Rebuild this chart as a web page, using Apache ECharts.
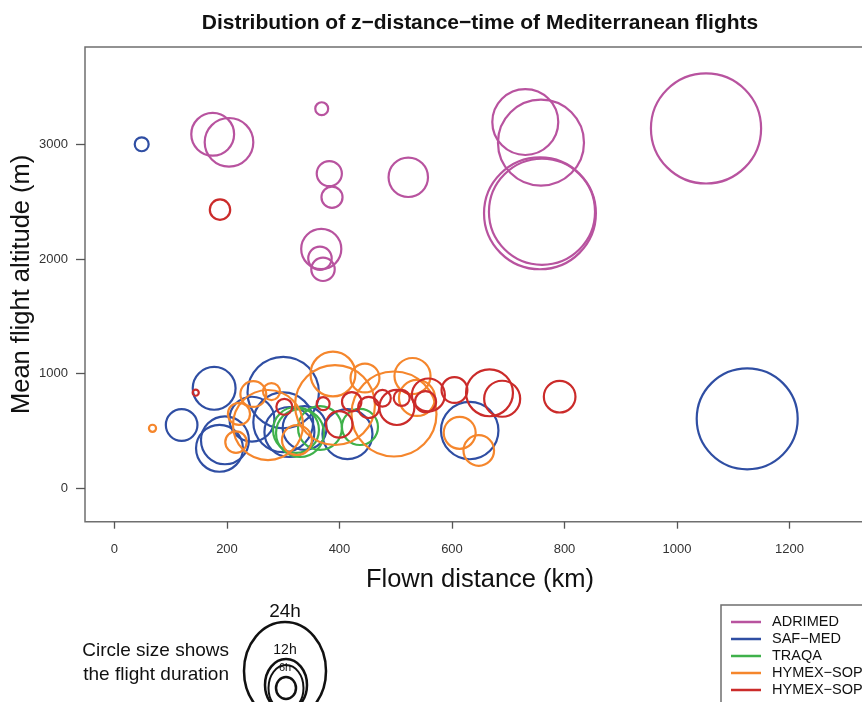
<!DOCTYPE html>
<html>
<head>
<meta charset="utf-8">
<title>Distribution of z−distance−time of Mediterranean flights</title>
<script src="https://cdn.jsdelivr.net/npm/echarts@6/dist/echarts.min.js"></script>
<style>
  html, body { margin: 0; padding: 0; background: #ffffff; }
  #chart { width: 862px; height: 702px; }
</style>
</head>
<body>
<div id="chart"></div>
<script>
// Flights per campaign: [flown distance (km), mean altitude (m), duration (h)]
const adrimed = [
  [174.6, 3087, 12.6], [203.6, 3017, 14.3], [368.4, 3310, 3.8],
  [381.9, 2744, 7.4], [386.7, 2538, 6.2], [522.3, 2712, 11.6],
  [367.6, 2087, 11.8], [365.3, 2006, 6.9], [370.7, 1910, 6.9],
  [730.3, 3194, 19.4], [758.2, 3014, 25.3], [756.4, 2398, 32.9],
  [760.0, 2411, 31.2], [1051.6, 3138, 32.4]
];
const safMed = [
  [48.4, 3000, 4.1], [119.4, 552, 9.3], [177.2, 872, 12.6],
  [186.7, 349, 13.8], [196.4, 419, 14.1], [300.0, 835, 21.0],
  [244.4, 603, 13.2], [300.0, 576, 17.6], [311.0, 491, 14.7],
  [338.0, 526, 12.9], [414.2, 473, 14.7], [631.5, 504, 16.9],
  [1124.8, 606, 29.7]
];
const traqa = [
  [322.7, 509, 13.5], [329.8, 482, 14.1], [365.3, 526, 12.9],
  [436.4, 535, 10.6]
];
const hymexSop1 = [
  [67.6, 523, 2.1], [216.0, 403, 6.3], [221.3, 649, 6.5],
  [246.8, 822, 7.6], [279.1, 844, 5.0], [272.9, 552, 20.6],
  [388.4, 997, 13.2], [445.3, 962, 8.5], [529.8, 979, 10.6],
  [496.9, 648, 25.0], [537.8, 788, 10.6], [613.7, 484, 9.4],
  [647.6, 330, 9.0], [392.0, 726, 23.5], [324.4, 421, 8.8]
];
const hymexSop2 = [
  [144.4, 834, 1.8], [187.6, 2430, 6.0], [302.0, 711, 4.7],
  [371.0, 738, 3.8], [421.7, 755, 5.7], [399.6, 558, 7.8],
  [452.0, 705, 6.2], [476.4, 785, 4.9], [502.0, 705, 10.3],
  [510.6, 788, 4.7], [558.0, 814, 9.7], [553.0, 755, 6.2],
  [604.4, 857, 7.6], [666.7, 833, 13.8], [689.2, 781, 10.6],
  [791.4, 799, 9.3]
];

const campaignNames = ['ADRIMED', 'SAF−MED', 'TRAQA', 'HYMEX−SOP1', 'HYMEX−SOP2'];
const campaignColors = ['#b8539f', '#2f4ea3', '#3fb14b', '#f5862c', '#cb2b2a'];
const campaignData = [adrimed, safMed, traqa, hymexSop1, hymexSop2];

const xTicks = [0, 200, 400, 600, 800, 1000, 1200];
const yTicks = [0, 1000, 2000, 3000];

// circle diameter in pixels per hour of flight
const PX_PER_HOUR = 3.4;

const chart = echarts.init(document.getElementById('chart'));

const series = campaignData.map((data, i) => ({
  name: campaignNames[i],
  type: 'scatter',
  data: data,
  symbol: 'circle',
  symbolSize: v => v[2] * PX_PER_HOUR,
  itemStyle: {
    color: 'rgba(0,0,0,0)',
    borderColor: campaignColors[i],
    borderWidth: 2.2,
    opacity: 1
  },
  emphasis: { disabled: true },
  silent: true,
  z: 2 + i
}));

const textFont = '"Liberation Sans", Arial, sans-serif';

// legend of campaigns, lower right
const legendX = 721, legendY = 605, rowH = 17;
const legendGraphics = [{
  type: 'rect',
  shape: { x: legendX, y: legendY, width: 200, height: 120 },
  style: { fill: '#ffffff', stroke: '#6f6f6f', lineWidth: 1.5 },
  z: 10
}];
campaignNames.forEach((name, i) => {
  const y = legendY + 17 + i * rowH;
  legendGraphics.push({
    type: 'line',
    shape: { x1: legendX + 10, y1: y, x2: legendX + 40, y2: y },
    style: { stroke: campaignColors[i], lineWidth: 2.5 },
    z: 11
  });
  legendGraphics.push({
    type: 'text',
    x: legendX + 51, y: y,
    style: {
      text: name, fill: '#111', font: '14.5px ' + textFont,
      textVerticalAlign: 'middle'
    },
    z: 11
  });
});

// duration key, lower left
const keyGraphics = [
  { type: 'text', x: 229, y: 651, style: { text: 'Circle size shows', fill: '#111',
    font: '19px ' + textFont, textAlign: 'right', textVerticalAlign: 'middle' } },
  { type: 'text', x: 229, y: 675, style: { text: 'the flight duration', fill: '#111',
    font: '19px ' + textFont, textAlign: 'right', textVerticalAlign: 'middle' } },
  { type: 'ellipse', shape: { cx: 285, cy: 671, rx: 41, ry: 49 },
    style: { fill: 'none', stroke: '#111', lineWidth: 2.5 } },
  { type: 'ellipse', shape: { cx: 286, cy: 685, rx: 21, ry: 26 },
    style: { fill: 'none', stroke: '#111', lineWidth: 2.5 } },
  { type: 'ellipse', shape: { cx: 286, cy: 688, rx: 17.5, ry: 23 },
    style: { fill: 'none', stroke: '#111', lineWidth: 2 } },
  { type: 'ellipse', shape: { cx: 286, cy: 688, rx: 10, ry: 11 },
    style: { fill: 'none', stroke: '#111', lineWidth: 2.5 } },
  { type: 'text', x: 285, y: 612, style: { text: '24h', fill: '#111',
    font: '19px ' + textFont, textAlign: 'center', textVerticalAlign: 'middle' } },
  { type: 'text', x: 285, y: 650, style: { text: '12h', fill: '#111',
    font: '14px ' + textFont, textAlign: 'center', textVerticalAlign: 'middle' } },
  { type: 'text', x: 285, y: 668, style: { text: '6h', fill: '#111',
    font: '11px ' + textFont, textAlign: 'center', textVerticalAlign: 'middle' } }
];

chart.setOption({
  animation: false,
  backgroundColor: '#ffffff',
  title: {
    text: 'Distribution of z−distance−time of Mediterranean flights',
    left: 475,
    textAlign: 'center',
    top: 8,
    textStyle: { fontFamily: textFont, fontWeight: 'bold', fontSize: 21, color: '#111' }
  },
  grid: {
    left: 85, top: 47, right: -13, bottom: 180.3,
    show: true, borderColor: '#6f6f6f', borderWidth: 1.5, backgroundColor: 'transparent',
    containLabel: false,
    outerBoundsMode: 'none'
  },
  xAxis: {
    type: 'value',
    min: -52.4, max: 1352,
    name: 'Flown distance (km)',
    nameLocation: 'middle',
    nameGap: 45,
    nameTextStyle: { fontFamily: textFont, fontSize: 25.5, color: '#111' },
    axisLine: { show: false, onZero: false },
    splitLine: { show: false },
    axisTick: { show: true, inside: false, length: 7, customValues: xTicks,
      lineStyle: { color: '#555', width: 1.3 } },
    axisLabel: { customValues: xTicks, margin: 21, fontFamily: textFont, fontSize: 13, color: '#333',
      formatter: v => String(v) }
  },
  yAxis: {
    type: 'value',
    min: -291, max: 3848,
    name: 'Mean flight altitude (m)',
    nameLocation: 'middle',
    nameGap: 50,
    nameMoveOverlap: false,
    nameTextStyle: { fontFamily: textFont, fontSize: 25.5, color: '#111' },
    axisLine: { show: false, onZero: false },
    splitLine: { show: false },
    axisTick: { show: true, inside: false, length: 9, customValues: yTicks,
      lineStyle: { color: '#555', width: 1.3 } },
    axisLabel: { customValues: yTicks, margin: 17, fontFamily: textFont, fontSize: 13, color: '#333',
      formatter: v => String(v) }
  },
  series: series,
  graphic: legendGraphics.concat(keyGraphics)
});
</script>
</body>
</html>
